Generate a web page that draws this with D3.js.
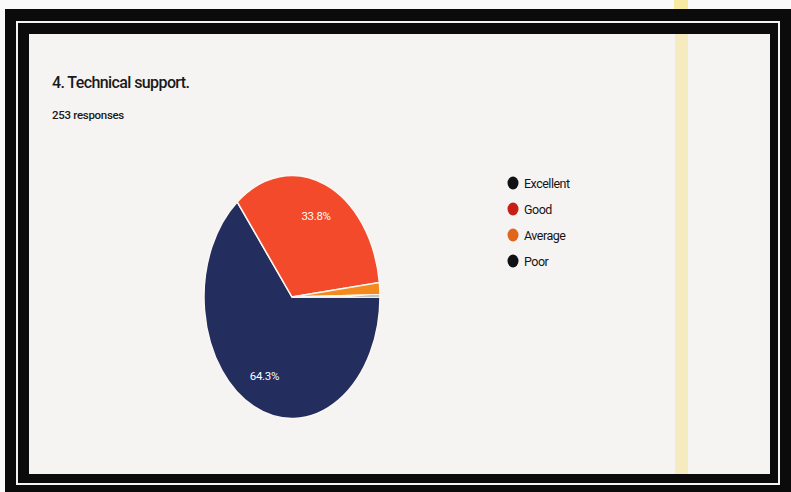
<!DOCTYPE html>
<html>
<head>
<meta charset="utf-8">
<script src="https://cdn.jsdelivr.net/npm/d3@7"></script>
<style>
  html, body { margin: 0; padding: 0; background: #fbfafa; }
  svg { display: block; }
</style>
</head>
<body>
<svg id="drawing_region"></svg>
<script>
const title = "4. Technical support.";
const subtitle = "253 responses";
const categories = ["Excellent", "Good", "Average", "Poor"];
const percents = [64.3, 33.8, 1.6, 0.3];
const colors = ["#232d5e", "#f24a2a", "#f3891f", "#1d2b22"];
const legendColors = ["#111216", "#c81e16", "#e2651c", "#101114"];

const width = 791;
const height = 492;

const svg = d3.select('#drawing_region')
    .attr('width', width)
    .attr('height', height);

// highlighter streak above the frame
svg.append('rect')
    .attr('x', 674).attr('y', 0)
    .attr('width', 14).attr('height', 9)
    .attr('fill', '#f7d94a')
    .attr('opacity', 0.5);

// photo frame
svg.append('rect')
    .attr('x', 5).attr('y', 9)
    .attr('width', 786).attr('height', 483)
    .attr('fill', '#0b0b0b');
svg.append('rect')
    .attr('x', 17).attr('y', 22)
    .attr('width', 762).attr('height', 462)
    .attr('fill', 'none')
    .attr('stroke', '#f4f4f4')
    .attr('stroke-width', 2);
svg.append('rect')
    .attr('x', 29).attr('y', 34)
    .attr('width', 741).attr('height', 440)
    .attr('fill', '#f6f4f3');
// highlighter streak on the paper
svg.append('rect')
    .attr('x', 675).attr('y', 34)
    .attr('width', 13).attr('height', 440)
    .attr('fill', '#f5d548')
    .attr('opacity', 0.3);

// texts
svg.append('text')
    .attr('x', 52).attr('y', 88)
    .attr('font-family', 'Roboto, sans-serif')
    .attr('font-size', 16)
    .attr('font-weight', 500)
    .attr('letter-spacing', -0.6)
    .attr('fill', '#1a1a1a')
    .text(title);
svg.append('text')
    .attr('x', 52).attr('y', 119)
    .attr('font-family', 'Roboto, sans-serif')
    .attr('font-size', 11.5)
    .attr('font-weight', 500)
    .attr('letter-spacing', -0.3)
    .attr('fill', '#1a1a1a')
    .text(subtitle);

// pie (stretched vertically like in the photo)
const cx = 292, cy = 297;
const R = 100;
const sx = 0.88, sy = 1.215;

const data = categories.map((c, i) => ({ label: c, value: percents[i], color: colors[i] }));

const pie = d3.pie()
    .value(d => d.value)
    .sort(null)
    .startAngle(Math.PI / 2)
    .endAngle(Math.PI / 2 + 2 * Math.PI);

const arc = d3.arc().innerRadius(0).outerRadius(R);
const labelArc = d3.arc().innerRadius(R * 0.72).outerRadius(R * 0.72);

const arcs = pie(data);

const pieG = svg.append('g')
    .attr('transform', `translate(${cx}, ${cy}) scale(${sx}, ${sy})`);

pieG.selectAll('path')
    .data(arcs)
    .enter()
    .append('path')
    .attr('d', arc)
    .attr('fill', d => d.data.color)
    .attr('stroke', '#fbf7f2')
    .attr('stroke-width', 1.5)
    .attr('vector-effect', 'non-scaling-stroke');

svg.append('g')
    .selectAll('text')
    .data(arcs.filter(d => d.data.value > 5))
    .enter()
    .append('text')
    .attr('x', d => cx + labelArc.centroid(d)[0] * sx)
    .attr('y', d => cy + labelArc.centroid(d)[1] * sy + 4)
    .attr('text-anchor', 'middle')
    .attr('font-family', 'Roboto, sans-serif')
    .attr('font-size', 11.5)
    .attr('letter-spacing', -0.3)
    .attr('fill', '#ffffff')
    .text(d => d.data.value.toFixed(1) + '%');

// legend
const legend = svg.append('g')
    .attr('transform', 'translate(513, 183)');
const items = legend.selectAll('g')
    .data(categories)
    .enter()
    .append('g')
    .attr('transform', (d, i) => `translate(0, ${i * 26})`);
items.append('ellipse')
    .attr('rx', 5.5).attr('ry', 6.5)
    .attr('fill', (d, i) => legendColors[i]);
items.append('text')
    .attr('x', 11).attr('y', 4.5)
    .attr('font-family', 'Roboto, sans-serif')
    .attr('font-size', 12.5)
    .attr('letter-spacing', -0.5)
    .attr('fill', '#151515')
    .text(d => d);
</script>
</body>
</html>
